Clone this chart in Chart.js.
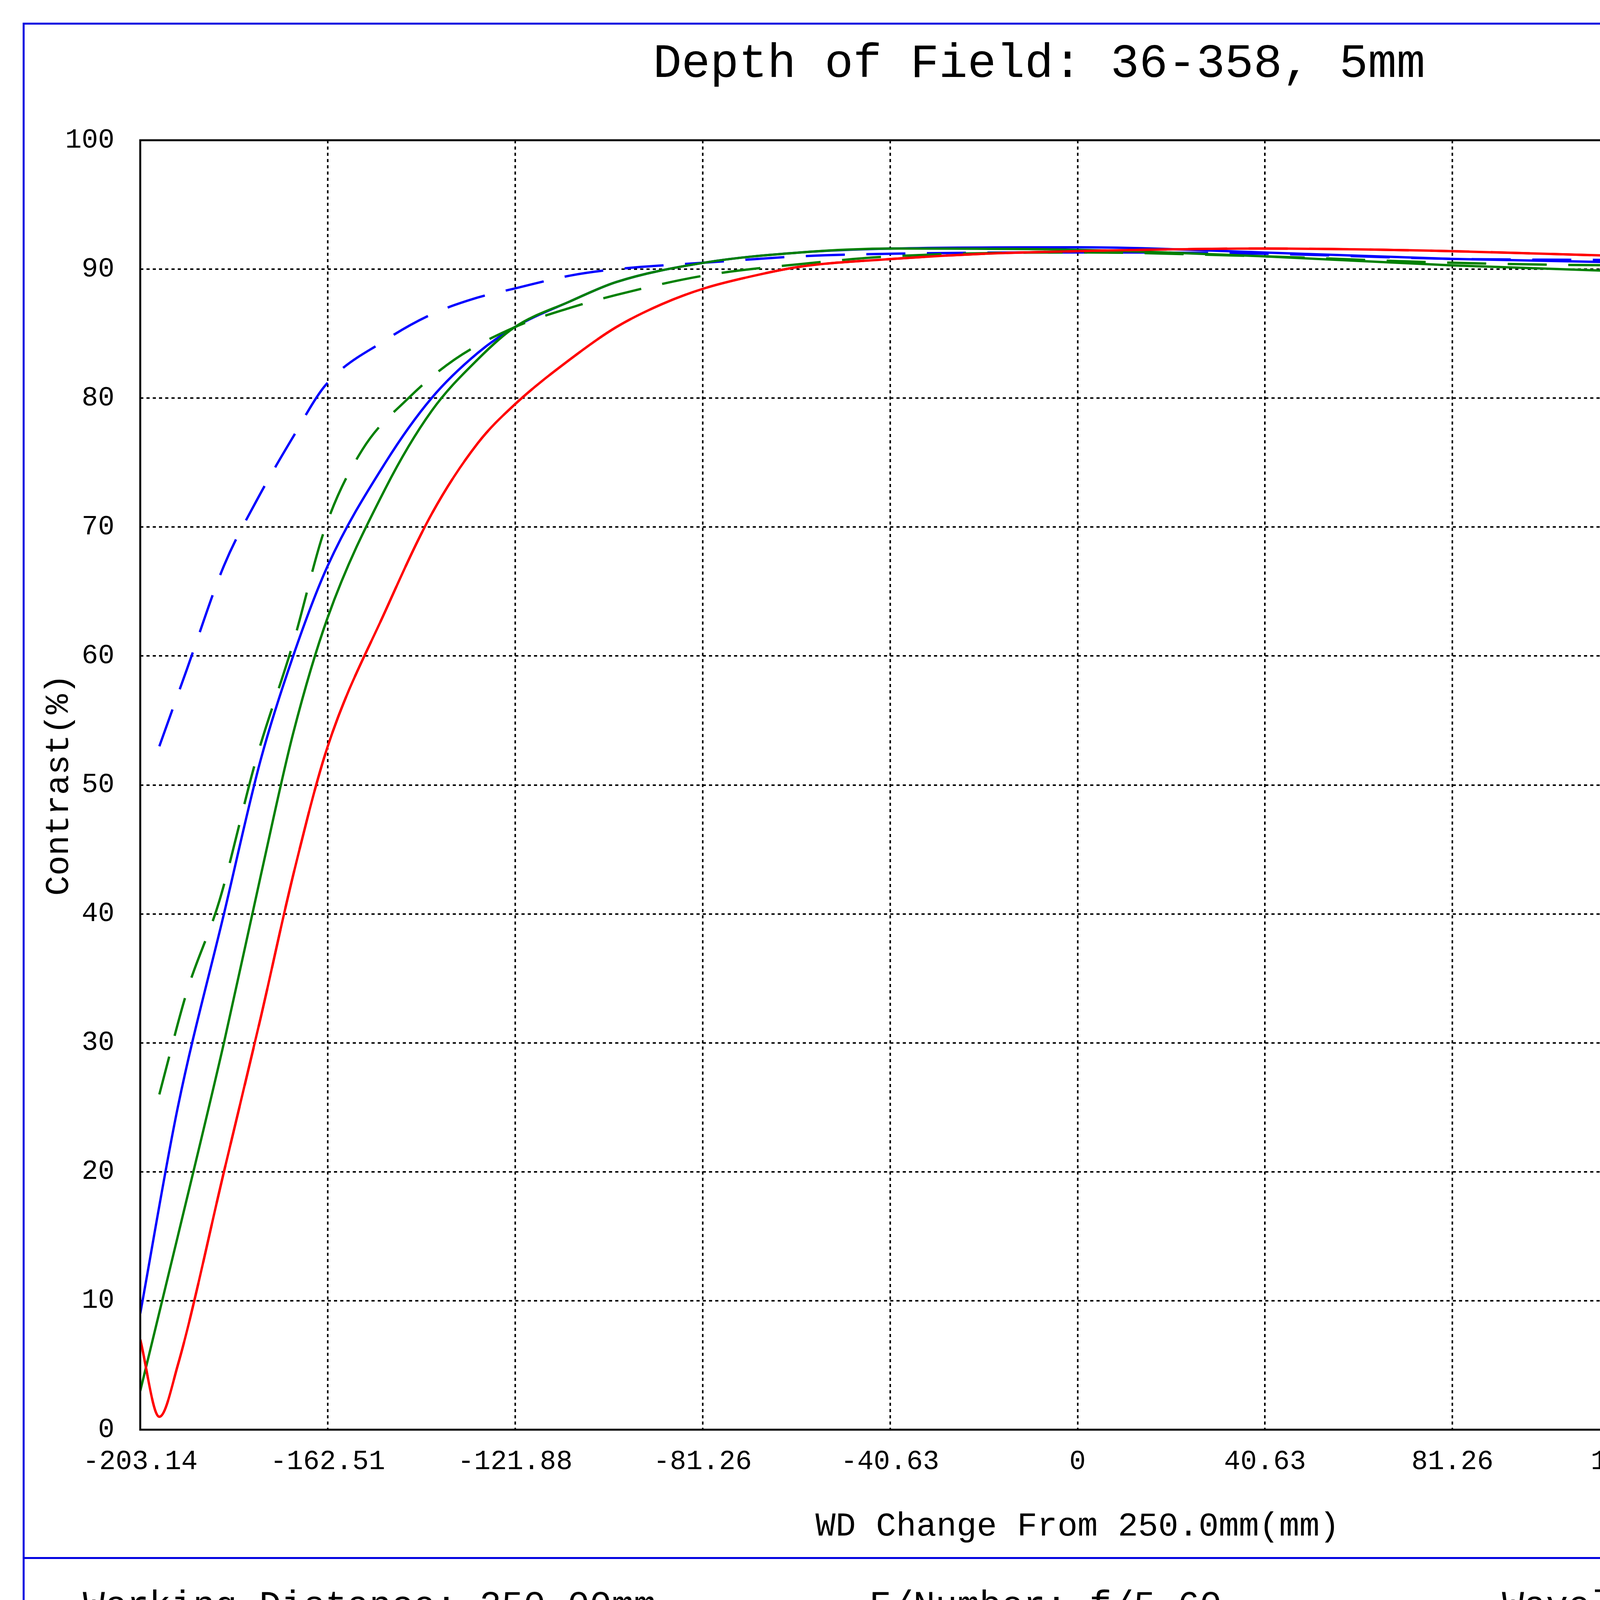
<!DOCTYPE html>
<html><head><meta charset="utf-8">
<script src="https://cdn.jsdelivr.net/npm/chart.js@4"></script>
<style>
html,body{margin:0;padding:0;background:#fff;}
#wrap{position:relative;width:6118px;height:4327px;overflow:hidden;font-family:"Liberation Mono","DejaVu Sans Mono",monospace;color:#000;}
#box{position:absolute;left:58px;top:58px;width:5998px;height:4200px;border:5px solid #0000e0;}
#sep{position:absolute;left:58px;top:3986px;width:6006px;height:0;border-top:5px solid #0000e0;}
#title{position:absolute;left:0;width:5320px;top:95px;text-align:center;font-size:122px;}
.foot{position:absolute;top:4060px;font-size:94px;white-space:pre;}
#leg{position:absolute;left:5220px;top:1190px;font-size:74px;}
.row{position:relative;height:165px;}
.row span{position:absolute;left:150px;top:0;white-space:pre;}
.sw{position:absolute;left:0;width:95px;}
canvas{position:absolute;left:0;top:0;}
</style></head><body>
<div id="wrap">
<canvas id="c" width="6118" height="4327"></canvas>
<div id="box"></div><div id="sep"></div>
<div id="title">Depth of Field: 36-358, 5mm</div>
<div class="foot" style="left:212px">Working Distance: 250.00mm</div>
<div class="foot" style="left:2225px">F/Number: f/5.60</div>
<div class="foot" style="left:3845px">Wavelength Range: 486nm-656nm</div>
<div id="leg"><div class="row"><span style="left:0">Fields</span></div></div>
</div>
<script>
const xTicks=[-203.14,-162.51,-121.88,-81.26,-40.63,0,40.63,81.26,121.88,162.51,203.14];
const yTicks=[0,10,20,30,40,50,60,70,80,90,100];
const redX=[-203.14,-199,-195,-185,-177,-170,-162.5,-150,-140,-130,-122,-110,-100,-90,-81,-70,-60,-40,-20,0,40,81,120,162,203.14];
const redY=[7,1,5,20,32,43,53,63.5,71,76.5,79.5,83,85.5,87.3,88.5,89.5,90.2,90.8,91.2,91.4,91.6,91.4,91,90.7,90.4];
const greenX=[-203.14,-195,-185,-177,-170,-162.5,-150,-140,-130,-122,-110,-100,-81,-60,-40,0,40,81,121,162,203.14];
const greenY=[3,15,30,43,54,63,73,79,83,85.5,87.5,89,90.5,91.3,91.6,91.5,91.0,90.3,89.8,89.2,88.6];
const greenDX=[-199,-193,-186,-178,-170,-163,-155,-145,-135,-122,-110,-100,-81,-60,-40,0,40,81,121,162,203.14];
const greenDY=[26,34,41,52,61,70,76,80,83,85.5,87,88,89.5,90.4,91,91.3,91,90.5,90.3,90.5,90.4];
const blueX=[-203.14,-195,-185,-177,-170,-162.5,-150,-140,-130,-122,-110,-100,-81,-60,-40,0,40,81,121,162,203.14];
const blueY=[9,25,40,52,60,67,75,80,83.5,85.5,87.5,89,90.5,91.3,91.6,91.7,91.3,90.8,90.5,90.3,90];
const blueDX=[-199,-193,-185,-178,-170,-163,-150,-140,-130,-122,-110,-100,-81,-60,-40,0,40,81,121,162,203.14];
const blueDY=[53,59,67,72,77,81,84.5,86.5,87.8,88.5,89.5,90,90.5,91,91.2,91.3,91.2,90.8,90.7,90.5,90.3];
const fieldNames=["TS,0.00mm","TS,2.25mm","TS,3.00mm"];
const colors=["#ff0000","#008000","#0000ff"];
const pts=(xs,ys)=>xs.map((x,i)=>({x,y:ys[i]}));
const DASH=[100,55];
const ds=[
 {data:pts(redX,redY),borderColor:colors[0]},
 {data:pts(redX,redY),borderColor:colors[0],borderDash:DASH},
 {data:pts(greenX,greenY),borderColor:colors[1]},
 {data:pts(greenDX,greenDY),borderColor:colors[1],borderDash:DASH},
 {data:pts(blueX,blueY),borderColor:colors[2]},
 {data:pts(blueDX,blueDY),borderColor:colors[2],borderDash:DASH}
].map(d=>Object.assign({borderWidth:6,pointRadius:0,cubicInterpolationMode:'monotone',fill:false},d));
const F={family:"Liberation Mono",size:70};
const leg=document.getElementById('leg');
fieldNames.forEach((n,i)=>{const r=document.createElement('div');r.className='row';
 r.innerHTML=`<div class="sw" style="top:38px;border-top:5px solid ${colors[i]}"></div><div class="sw" style="top:54px;border-top:5px dashed ${colors[i]}"></div><span>${n}</span>`;leg.appendChild(r);});
const G={color:'#000',lineWidth:4,drawTicks:false};
const B={display:false,dash:[8,8]};
new Chart(document.getElementById('c'),{type:'line',data:{datasets:ds},
options:{responsive:false,animation:false,devicePixelRatio:1,
 layout:{padding:{left:100,top:359,right:960,bottom:367}},
 plugins:{legend:{display:false},tooltip:{enabled:false}},
 scales:{
  x:{type:'linear',min:-203.14,max:203.14,
   afterBuildTicks:s=>{s.ticks=xTicks.map(v=>({value:v}));},
   afterFit:s=>{s.height=300;},
   ticks:{font:F,color:'#000',padding:40,maxRotation:0,autoSkip:false,callback:v=>xTicks.find(t=>Math.abs(t-v)<0.01).toFixed(2).replace(/\.00$/,'')},
   grid:G,border:B,
   title:{display:true,text:'WD Change From 250.0mm(mm)',font:{family:"Liberation Mono",size:86},color:'#000',padding:0}},
  y:{min:0,max:100,
   afterBuildTicks:s=>{s.ticks=yTicks.map(v=>({value:v}));},
   afterFit:s=>{s.width=259;},
   ticks:{font:F,color:'#000',padding:66},
   grid:G,border:B,
   title:{display:true,text:'Contrast(%)',font:{family:"Liberation Mono",size:86},color:'#000',padding:0}}
 }},
 plugins:[{id:'frame',afterDraw(c){const a=c.chartArea,x=c.ctx;x.save();x.strokeStyle='#000';x.lineWidth=5;x.setLineDash([]);x.strokeRect(a.left,a.top,a.right-a.left,a.bottom-a.top);x.restore();}}]
});
</script>
</body></html>
